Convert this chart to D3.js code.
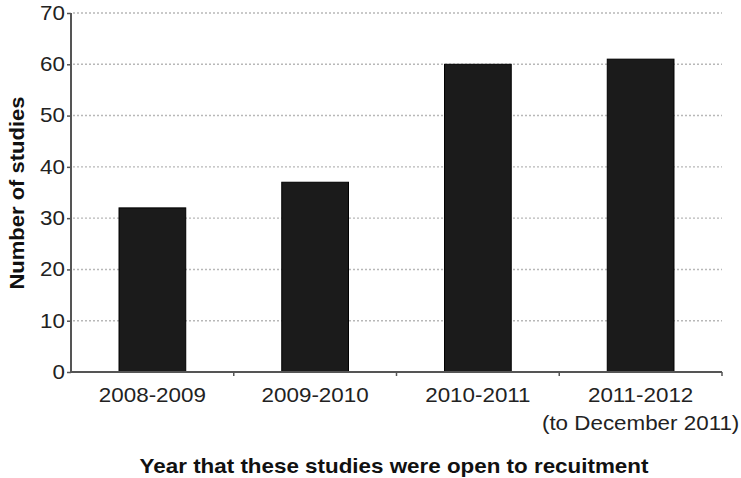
<!DOCTYPE html>
<html>
<head>
<meta charset="utf-8">
<script src="https://cdn.jsdelivr.net/npm/d3@7"></script>
<style>
  body { margin: 0; background: #fff; }
  svg { font-family: "Liberation Sans", Arial, sans-serif; }
</style>
</head>
<body>
<svg id="viz" width="741" height="478"></svg>
<script>
// data
var years = ["2008-2009", "2009-2010", "2010-2011", "2011-2012"];
var subLabels = ["", "", "", "(to December 2011)"];
var studies = [32, 37, 60, 61];
var yTicks = [0, 10, 20, 30, 40, 50, 60, 70];

var margin = {left: 71, right: 19, top: 13, bottom: 106}
  , width = 741 - margin.left - margin.right
  , height = 478 - margin.top - margin.bottom
  , stretch = 1.12;   // the original type is a bit wider than Liberation Sans

var svg = d3.select("#viz");
var g = svg.append("g")
    .attr("transform", "translate(" + margin.left + "," + margin.top + ")");

var x = d3.scaleBand().domain(years).range([0, width]).paddingInner(0.59).paddingOuter(0.295);
var xTick = d3.scaleBand().domain(years).range([0, width]);
var y = d3.scaleLinear().domain([0, 70]).range([height, 0]);

// dotted gridlines behind bars
g.append("g")
  .selectAll("line")
  .data(yTicks.filter(d => d > 0))
  .enter().append("line")
    .attr("x1", 2)
    .attr("x2", width)
    .attr("y1", d => y(d))
    .attr("y2", d => y(d))
    .attr("stroke", "#b8b8b8")
    .attr("stroke-width", 1.4)
    .attr("stroke-dasharray", "2,2");

// bars
g.append("g")
  .selectAll("rect")
  .data(studies)
  .enter().append("rect")
    .attr("x", (d, i) => x(years[i]))
    .attr("y", d => y(d))
    .attr("width", x.bandwidth())
    .attr("height", d => height - y(d))
    .attr("fill", "#1b1b1b")
    .attr("stroke", "#000")
    .attr("stroke-width", 1);

// y axis
var yAxis = g.append("g")
  .call(d3.axisLeft(y).tickValues(yTicks).tickSize(4).tickPadding(2));
yAxis.select(".domain").attr("stroke", "#555").attr("stroke-width", 2).attr("d", "M0," + height + "V0");
yAxis.selectAll(".tick line").attr("stroke", "#555").attr("stroke-width", 1.5);
yAxis.selectAll("text")
  .attr("font-size", 20)
  .attr("fill", "#222")
  .attr("font-family", null)
  .attr("x", -6 / stretch)
  .attr("transform", "scale(" + stretch + ",1)");

// x axis: ticks at band edges
var xAxisG = g.append("g").attr("transform", "translate(0," + height + ")");
xAxisG.append("line")
  .attr("x1", 0).attr("x2", width)
  .attr("stroke", "#555").attr("stroke-width", 2);
xAxisG.selectAll(".edge")
  .data(years.slice(1).map(d => xTick(d)).concat([width]))
  .enter().append("line")
    .attr("x1", d => d).attr("x2", d => d)
    .attr("y1", 0).attr("y2", 4)
    .attr("stroke", "#555").attr("stroke-width", 1.5);

xAxisG.selectAll(".lab")
  .data(years)
  .enter().append("text")
    .attr("transform", d => "translate(" + (xTick(d) + xTick.bandwidth() / 2) + ",30) scale(" + stretch + ",1)")
    .attr("text-anchor", "middle")
    .attr("font-size", 20)
    .attr("fill", "#222")
    .text(d => d);

xAxisG.selectAll(".sub")
  .data(subLabels)
  .enter().append("text")
    .attr("transform", (d, i) => "translate(" + (xTick(years[i]) + xTick.bandwidth() / 2) + ",58) scale(" + stretch + ",1)")
    .attr("text-anchor", "middle")
    .attr("font-size", 20)
    .attr("fill", "#222")
    .text(d => d);

// axis titles
svg.append("text")
  .attr("transform", "translate(24,193) rotate(-90) scale(1.1,1)")
  .attr("text-anchor", "middle")
  .attr("font-size", 20)
  .attr("font-weight", "bold")
  .attr("fill", "#111")
  .text("Number of studies");

svg.append("text")
  .attr("transform", "translate(394,473) scale(" + stretch + ",1)")
  .attr("text-anchor", "middle")
  .attr("font-size", 20)
  .attr("font-weight", "bold")
  .attr("fill", "#111")
  .text("Year that these studies were open to recuitment");
</script>
</body>
</html>
